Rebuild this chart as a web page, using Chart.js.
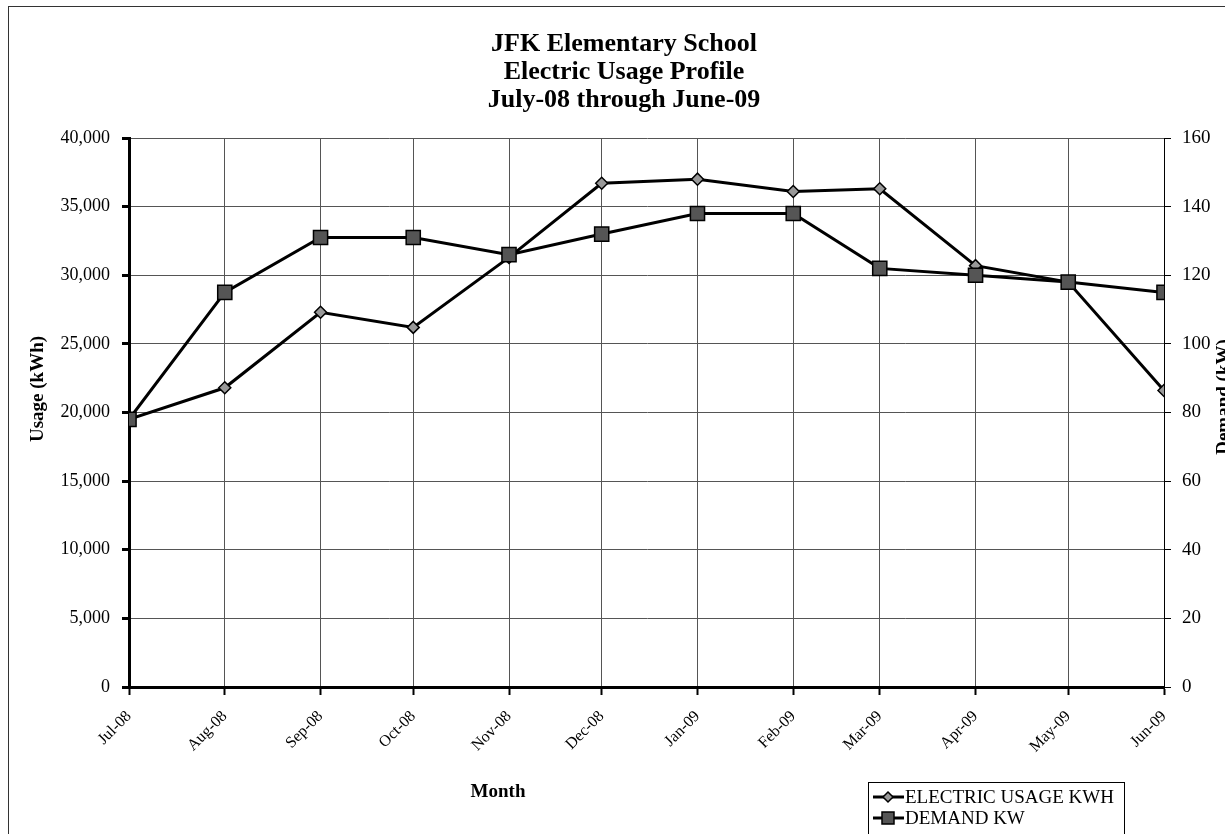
<!DOCTYPE html>
<html>
<head>
<meta charset="utf-8">
<script src="https://cdn.jsdelivr.net/npm/chart.js@4/dist/chart.umd.min.js"></script>
<style>
  html, body { margin: 0; padding: 0; background: #fff; overflow: hidden; }
  #wrap { position: relative; width: 1225px; height: 834px; overflow: hidden; }
  #frame { position: absolute; left: 8px; top: 6px; width: 1300px; height: 900px; border: 1px solid #333; pointer-events: none; }
  canvas { position: absolute; left: 0; top: 0; }
</style>
</head>
<body>
<div id="wrap">
  <canvas id="usageChart" width="1248" height="834"></canvas>
  <div id="frame"></div>
</div>
<script>
// Months (day offset from Jul 1 2008, so spacing follows month length)
const monthLabels = ['Jul-08', 'Aug-08', 'Sep-08', 'Oct-08', 'Nov-08', 'Dec-08',
                     'Jan-09', 'Feb-09', 'Mar-09', 'Apr-09', 'May-09', 'Jun-09'];
const monthDays = [0, 31, 62, 92, 123, 153, 184, 215, 243, 274, 304, 335];

const usageKwh = [19500, 21800, 27300, 26200, 31300, 36700, 37000, 36100, 36300, 30700, 29500, 21600];
const demandKw = [78, 115, 131, 131, 126, 132, 138, 138, 122, 120, 118, 115];

const usageTicks = [0, 5000, 10000, 15000, 20000, 25000, 30000, 35000, 40000];
const demandTicks = [0, 20, 40, 60, 80, 100, 120, 140, 160];

const serif = "'Liberation Serif', 'Times New Roman', serif";

// Axis titles and legend drawn by hand to match the original placement
const extrasPlugin = {
    id: 'extras',
    afterDraw(chart) {
        const ctx = chart.ctx;
        ctx.save();
        ctx.fillStyle = '#000';
        ctx.font = 'bold 19px ' + serif;
        ctx.textAlign = 'center';
        ctx.textBaseline = 'middle';

        ctx.save();
        ctx.translate(38, 389);
        ctx.rotate(-Math.PI / 2);
        ctx.fillText('Usage (kWh)', 0, 0);
        ctx.restore();

        ctx.save();
        ctx.translate(1224, 397);
        ctx.rotate(-Math.PI / 2);
        ctx.fillText('Demand (kW)', 0, 0);
        ctx.restore();

        ctx.fillText('Month', 498, 792);

        // legend
        ctx.strokeStyle = '#000';
        ctx.lineWidth = 1;
        ctx.strokeRect(868.5, 782.5, 256, 70);

        const rows = [
            { y: 797, text: 'ELECTRIC USAGE KWH', marker: 'diamond' },
            { y: 818, text: 'DEMAND KW', marker: 'square' }
        ];
        rows.forEach(function(row) {
            ctx.lineWidth = 3;
            ctx.beginPath();
            ctx.moveTo(873, row.y);
            ctx.lineTo(904, row.y);
            ctx.stroke();
            ctx.lineWidth = 1.5;
            ctx.beginPath();
            if (row.marker === 'diamond') {
                ctx.fillStyle = '#999';
                ctx.moveTo(888, row.y - 5);
                ctx.lineTo(893, row.y);
                ctx.lineTo(888, row.y + 5);
                ctx.lineTo(883, row.y);
                ctx.closePath();
            } else {
                ctx.fillStyle = '#555';
                ctx.rect(882, row.y - 6, 12, 12);
            }
            ctx.fill();
            ctx.stroke();
            ctx.fillStyle = '#000';
            ctx.font = '19px ' + serif;
            ctx.textAlign = 'left';
            ctx.fillText(row.text, 905, row.y + 1);
        });
        ctx.restore();
    }
};

const ctx = document.getElementById('usageChart');
new Chart(ctx, {
    type: 'line',
    data: {
        datasets: [{
            label: 'ELECTRIC USAGE KWH',
            data: usageKwh.map((v, i) => ({ x: monthDays[i], y: v })),
            yAxisID: 'y',
            borderColor: '#000',
            borderWidth: 3,
            pointStyle: 'rectRot',
            pointRadius: 6,
            pointBackgroundColor: '#999',
            pointBorderColor: '#000',
            pointBorderWidth: 1.5,
            tension: 0,
            order: 1
        }, {
            label: 'DEMAND KW',
            data: demandKw.map((v, i) => ({ x: monthDays[i], y: v })),
            yAxisID: 'y1',
            borderColor: '#000',
            borderWidth: 3,
            pointStyle: 'rect',
            pointRadius: 10,
            pointBackgroundColor: '#555',
            pointBorderColor: '#000',
            pointBorderWidth: 1.5,
            tension: 0,
            order: 0
        }]
    },
    options: {
        responsive: false,
        animation: false,
        layout: { padding: 0 },
        plugins: {
            legend: { display: false },
            tooltip: { enabled: false },
            title: {
                display: true,
                text: ['JFK Elementary School', 'Electric Usage Profile', 'July-08 through June-09'],
                color: '#000',
                font: { family: serif, size: 26, weight: 'bold', lineHeight: 28 / 26 },
                padding: { top: 30, bottom: 24 }
            }
        },
        scales: {
            x: {
                type: 'linear',
                min: monthDays[0],
                max: monthDays[monthDays.length - 1],
                afterBuildTicks: function(scale) {
                    scale.ticks = monthDays.map(v => ({ value: v }));
                },
                afterFit: function(scale) { scale.height = 147; },
                grid: { color: '#555', lineWidth: 1, tickLength: 8, tickColor: '#000', tickWidth: 2 },
                border: { color: '#000', width: 3 },
                ticks: {
                    autoSkip: false,
                    maxRotation: 45,
                    minRotation: 45,
                    padding: 12,
                    color: '#000',
                    font: { family: serif, size: 16 },
                    callback: function(value) {
                        const i = monthDays.indexOf(value);
                        return i >= 0 ? monthLabels[i] : '';
                    }
                }
            },
            y: {
                position: 'left',
                min: usageTicks[0],
                max: usageTicks[usageTicks.length - 1],
                afterBuildTicks: function(scale) {
                    scale.ticks = usageTicks.map(v => ({ value: v }));
                },
                afterFit: function(scale) { scale.width = 129; },
                grid: { color: '#555', lineWidth: 1, tickLength: 7, tickColor: '#000', tickWidth: 3 },
                border: { color: '#000', width: 3 },
                ticks: {
                    padding: 12,
                    color: '#000',
                    font: { family: serif, size: 18 },
                    callback: function(value) {
                        return new Intl.NumberFormat('en-US').format(value);
                    }
                }
            },
            y1: {
                position: 'right',
                min: demandTicks[0],
                max: demandTicks[demandTicks.length - 1],
                afterBuildTicks: function(scale) {
                    scale.ticks = demandTicks.map(v => ({ value: v }));
                },
                afterFit: function(scale) { scale.width = 84; },
                grid: { drawOnChartArea: false, tickLength: 7, tickColor: '#000', tickWidth: 1 },
                border: { color: '#000', width: 1 },
                ticks: {
                    padding: 11,
                    color: '#000',
                    font: { family: serif, size: 19 }
                }
            }
        }
    },
    plugins: [extrasPlugin]
});
</script>
</body>
</html>
